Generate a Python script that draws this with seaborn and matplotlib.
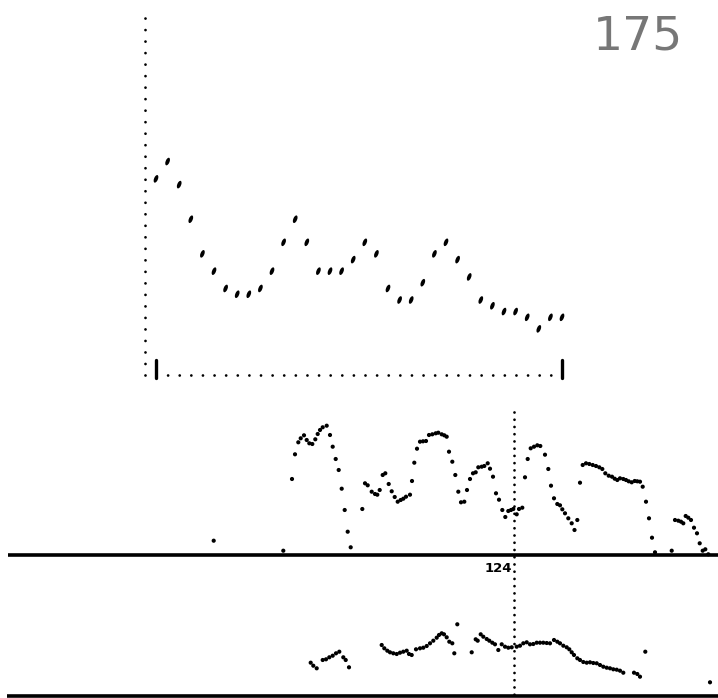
import matplotlib
matplotlib.use("Agg")
import matplotlib.pyplot as plt
import seaborn as sns
import pandas as pd
from matplotlib.path import Path
from matplotlib.transforms import Affine2D

sns.set_theme(style="white")
plt.rcParams["font.family"] = ["DejaVu Sans"]
plt.rcParams["lines.scale_dashes"] = False

# top panel: one value per frame
top_values = [34, 37, 33, 27, 21, 18, 15, 14, 14, 15, 18, 23, 27, 23, 18, 18, 18, 20,
              23, 21, 15, 13, 13, 16, 21, 23, 20, 17, 13, 12, 11, 11, 10, 8, 10, 10]
top_frames = list(range(len(top_values)))

# middle trace (position, height)
mid_t = [213.7, 283.3, 292, 295, 298.3, 300.7, 304, 306.7, 309.3, 312.3, 315.3, 317.7,
         320, 322.7, 326.7, 330, 332.7, 335.7, 338.7, 341.7, 344.7, 347.7, 350.7,
         362.3, 365, 367.7, 371.7, 375, 377.3, 379.7, 382.7, 385.3, 388.7, 391.7,
         394.7, 397.7, 400.7, 403.3, 406, 410, 412, 414.3, 417, 420, 423, 426, 429,
         432.3, 435.7, 438.3, 441.7, 444.3, 446.7, 449, 452.3, 455.3, 458.3, 461,
         464.3, 467, 470, 473, 475.7, 478.3, 481.7, 484.3, 487.7, 490, 493, 496, 499,
         502.3, 505.3, 508.3, 511, 513.3, 516.7, 519, 522.3, 525, 527.7, 530.7, 534,
         537.3, 540.3, 545, 548.3, 551, 554, 557.3, 560, 562.3, 565, 568.3, 571.7,
         574.5, 577.3, 580, 582.7, 586, 589.3, 592.7, 596, 599.3, 602.3, 605.3, 608.7,
         612, 614.7, 617.3, 620, 623.3, 626, 628.7, 631.7, 634.7, 637.3, 640, 642.7,
         646, 649, 652, 655, 671.7, 675, 678.3, 681, 683.3, 685.7, 688.3, 691, 694,
         697, 699.7, 702.7, 705.3, 708.3]
mid_h = [14.3, 4.3, 76, 100.7, 112.7, 116.7, 119.7, 115, 111.7, 111, 115.7, 121,
         125, 127.7, 129.3, 120, 108.3, 96, 85, 66.3, 45, 23.3, 7.7,
         46, 71.7, 69.7, 63.3, 61, 60.3, 65, 80, 81.7, 71, 63.7,
         58, 53.3, 55, 56.3, 58.3, 60.3, 74, 92.3, 106.3, 113.3, 113.7, 114, 120,
         120.7, 121.7, 122.3, 120.7, 119.7, 118.3, 103.3, 93.3, 80, 63.3, 52.7,
         53.3, 65, 76, 81.7, 82.7, 87.7, 88.3, 89, 91.7, 86.3, 78.3, 61.7, 55.3,
         45, 38, 44, 45, 46, 40.7, 46, 47.3, 77.7, 96, 106.7, 108.3,
         109.7, 109, 100.3, 86, 69.3, 56.7, 51, 49.7, 45.7, 41.7, 36.7, 31.7,
         25, 35, 72.3, 90, 91.7, 91, 90, 89, 87.7, 86, 81.7, 79.3,
         78.3, 76.3, 75, 76.7, 76, 75, 73.7, 72.7, 74, 73.7, 73.3, 68.3,
         53.3, 36.7, 17.3, 2.7, 4.3, 35, 34.3, 33.3, 31.7, 39, 37.3, 35, 27.3,
         21.7, 11.7, 4.3, 5.7, 0.7]

# bottom trace (position, height)
low_t = [310.7, 313.3, 316.7, 322.7, 326, 329.3, 332.7, 336, 339.3, 343.3, 345.7, 349,
         381.7, 384.3, 387.3, 390, 393.3, 396.7, 400, 403.3, 406.7, 409, 411.7, 416,
         420, 423.3, 426.7, 430, 433.3, 436.7, 439, 441.7, 444, 446.7, 449.3, 452.3,
         454.3, 457.3, 471.7, 475.7, 477.7, 480.7, 483.3, 486.7, 489.3, 492.3, 495,
         498.3, 501.7, 505, 508.3, 511.7, 516.7, 520, 523.3, 526.7, 530, 533.3, 536.7,
         540, 543.3, 546.7, 550, 554, 557.3, 560, 563.3, 566.7, 569.3, 571.7, 574,
         577.3, 580, 583.3, 586.7, 590, 593.3, 596.7, 600, 603.3, 606.7, 610, 613.3,
         616.7, 620, 623.3, 634, 637.3, 640, 645.3, 710]
low_h = [33.3, 30.3, 27.7, 36, 36.7, 38.7, 40.3, 42.7, 44.3, 38.7, 36, 28.7,
         51, 47.7, 45.3, 43.7, 42.7, 42, 43.3, 44.3, 45.3, 42, 41, 46.7,
         47.7, 48.3, 50, 52.7, 55.3, 58.3, 61, 62.7, 61.7, 58.7, 54.3, 52.7,
         42.7, 71.7, 43.7, 56.7, 55.3, 61.7, 59.3, 57, 55.3, 53.3, 51.7,
         46, 51.7, 49.3, 48.3, 48.7, 49.3, 50.3, 52.7, 53.7, 51.7, 52, 53.3,
         53.3, 53.3, 53, 52.7, 56, 54.3, 52.7, 50.3, 48.7, 46.7, 43.7, 41,
         37.7, 36, 34, 33.3, 33.7, 33, 32.7, 31, 29.3, 28.3, 27.7, 26.7,
         26.3, 25.3, 23.3, 23.3, 22, 19.3, 44.3, 13.7]

cursor_pos = 514
cursor_label = "124"
frame_label = "175"

top_df = pd.DataFrame({"frame": top_frames, "value": top_values})
mid_df = pd.DataFrame({"t": mid_t, "h": mid_h})
low_df = pd.DataFrame({"t": low_t, "h": low_h})

fig = plt.figure(figsize=(7.18, 6.98), dpi=100)
fig.patch.set_facecolor("white")

# px -> figure fraction
W, H = 718, 698
ax_top = fig.add_axes([138.6 / W, (H - 375) / H, 446.6 / W, 375 / H])
ax_mid = fig.add_axes([0, (H - 560) / H, 1, 155 / H])
ax_low = fig.add_axes([0, 0, 1, 138 / H])
for ax in (ax_top, ax_mid, ax_low):
    ax.axis("off")

# slanted dash marker for the top panel
dash = Affine2D().scale(0.48, 1.0).rotate_deg(-22).transform_path(Path.unit_circle())

# top panel
ax_top.set_xlim(-1.5, 37)
ax_top.set_ylim(0, 65)
ax_top.plot([-0.95, -0.95], [0, 63.4], color="black", lw=2.0, linestyle=(0, (0.01, 8.28)),
            dash_capstyle="round", clip_on=False)
ax_top.plot([0, 35], [0, 0], color="black", lw=2.0, linestyle=(0, (0.01, 8.35)),
            dash_capstyle="round", clip_on=False)
for tick in (0, 35):
    ax_top.plot([tick, tick], [-0.5, 2.6], color="black", lw=2.4, clip_on=False)
sns.scatterplot(data=top_df, x="frame", y="value", ax=ax_top, marker=dash, s=32,
                color="black", edgecolor="none", linewidth=0, legend=False, clip_on=False)

# middle panel
ax_mid.set_xlim(0, W)
ax_mid.set_ylim(-5, 150)
ax_mid.hlines(0, 8, W, color="black", lw=2.6)
sns.scatterplot(data=mid_df, x="t", y="h", ax=ax_mid, marker="o", s=9,
                color="black", edgecolor="none", linewidth=0, legend=False)
ax_mid.plot([cursor_pos, cursor_pos], [143, -143], color="black", lw=2.0,
            linestyle=(0, (0.01, 5.2)), dash_capstyle="round", clip_on=False)
ax_mid.text(cursor_pos - 2, -14, cursor_label, ha="right", va="center",
            fontsize=9.5, fontweight="bold", color="black")

# bottom panel
ax_low.set_xlim(0, W)
ax_low.set_ylim(-2, 136)
ax_low.hlines(0, 7, W, color="black", lw=2.6, clip_on=False)
sns.scatterplot(data=low_df, x="t", y="h", ax=ax_low, marker="o", s=9,
                color="black", edgecolor="none", linewidth=0, legend=False)

fig.text(593 / W, 1 - 50 / H, frame_label, ha="left", va="baseline",
         fontsize=34, color="#777777")

fig.savefig("out.png", dpi=100, facecolor="white")
